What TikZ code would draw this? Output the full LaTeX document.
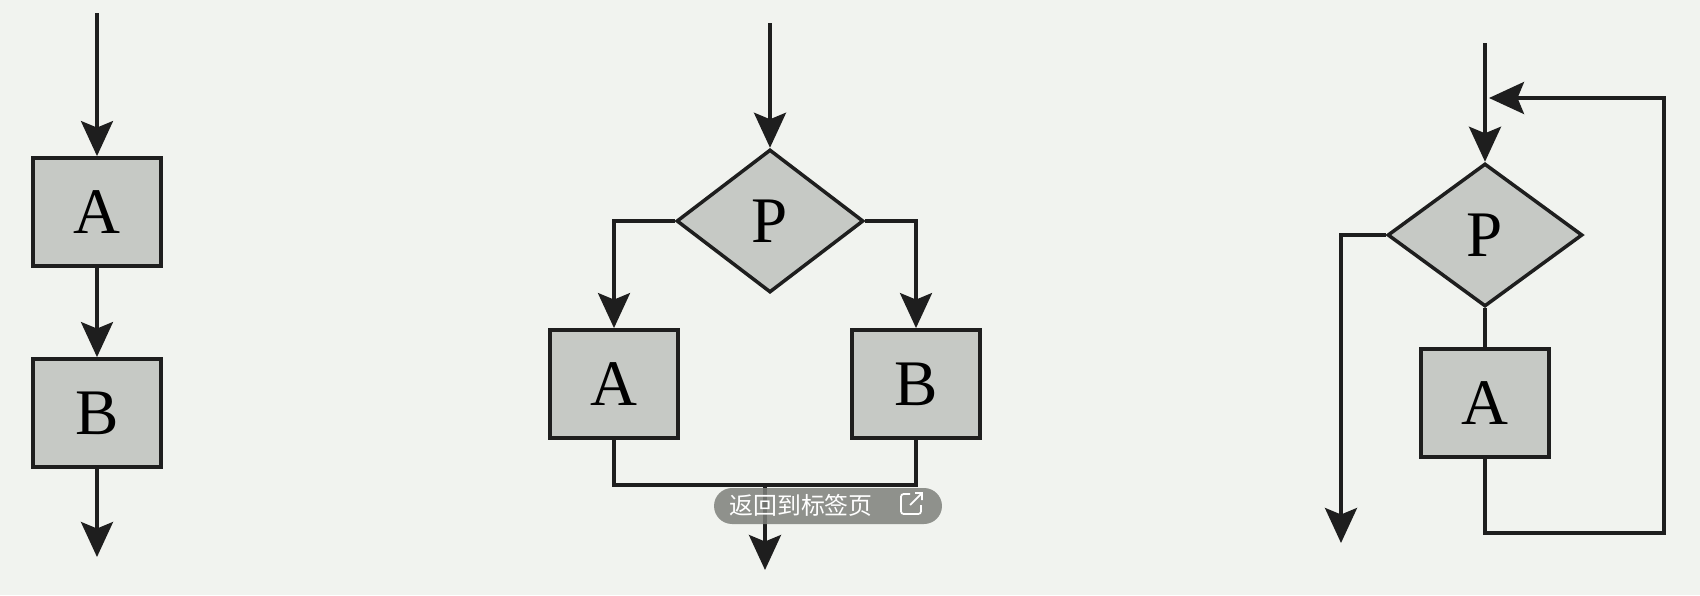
\documentclass[tikz,border=0pt]{standalone}
\usepackage{fontspec}
\setmainfont{Liberation Serif}
\newfontfamily\cjk{Noto Sans CJK SC}
\usepackage{tikz}
\usetikzlibrary{shapes.geometric,arrows.meta}
\definecolor{bgpaper}{HTML}{F1F3EF}
\definecolor{boxgray}{HTML}{C6C9C5}
\definecolor{pillgray}{HTML}{7E807B}
\definecolor{inkdark}{HTML}{1E1E1E}
\tikzset{
  blk/.style={rectangle, draw=inkdark, fill=boxgray, line width=2.2pt, minimum width=2.56cm, minimum height=2.16cm, inner sep=0pt, font=\fontsize{37}{37}\selectfont},
  cond/.style={diamond, draw=inkdark, fill=boxgray, line width=2pt, minimum height=2.86cm, inner sep=0pt, font=\fontsize{37}{37}\selectfont},
  arr/.style={-{Stealth[length=7mm, width=6.4mm, inset=1.3mm]}, draw=inkdark, line width=2pt},
  ln/.style={draw=inkdark, line width=2pt},
  pill/.style={fill=pillgray, fill opacity=0.85, rounded corners=0.36cm, minimum width=4.56cm, minimum height=0.72cm, inner sep=0pt}
}

\begin{document}
\begin{tikzpicture}[x=0.02cm, y=-0.02cm]
\fill[bgpaper] (0,0) rectangle (1700,595);
\useasboundingbox (0,0) rectangle (1700,595);

\node[blk] (sa) at (97,212) {A};
\node[blk] (sb) at (97,413) {B};
\coordinate (sin) at (97,13);
\coordinate (sout) at (97,557);
\draw[arr] (sin) -- (sa);
\draw[arr] (sa) -- (sb);
\draw[arr] (sb) -- (sout);

\node[cond, minimum width=3.74cm] (xp) at (770,221) {P};
\node[blk] (xa) at (614,384) {A};
\node[blk] (xb) at (916,384) {B};
\coordinate (xin) at (770,23);
\coordinate (xm) at (765,485);
\coordinate (xout) at (765,570);
\draw[arr] (xin) -- (xp);
\draw[arr] (xp.west) -| (xa.north);
\draw[arr] (xp.east) -| (xb.north);
\draw[ln] (xa.south) |- (xm) -| (xb.south);
\draw[arr] (xm) -- (xout);

\node[cond, minimum width=3.9cm] (lp) at (1485,235) {P};
\node[blk] (la) at (1485,403) {A};
\coordinate (lin) at (1485,43);
\coordinate (lj) at (1489,98);
\coordinate (lr) at (1664,533);
\coordinate (lt) at (1664,98);
\coordinate (lout) at (1341,543);
\draw[arr] (lin) -- (lp);
\draw[ln] (lp) -- (la);
\draw[arr] (la.south) |- (lr) -- (lt) -- (lj);
\draw[arr] (lp.west) -| (lout);

\node[pill] (tab) at (828,506) {};
\node[text=white, font=\cjk\fontsize{13.6}{14}\selectfont, anchor=west, inner sep=0pt] (tabtxt) at (729,505) {返回到标签页};
\draw[white, line width=1pt, rounded corners=1.5pt] (910,494) -- (901,494) -- (901,514) -- (921,514) -- (921,505);
\draw[white, line width=1pt] (910,505) -- (922,493) (915,493) -- (922,493) -- (922,500);
\end{tikzpicture}
\end{document}
